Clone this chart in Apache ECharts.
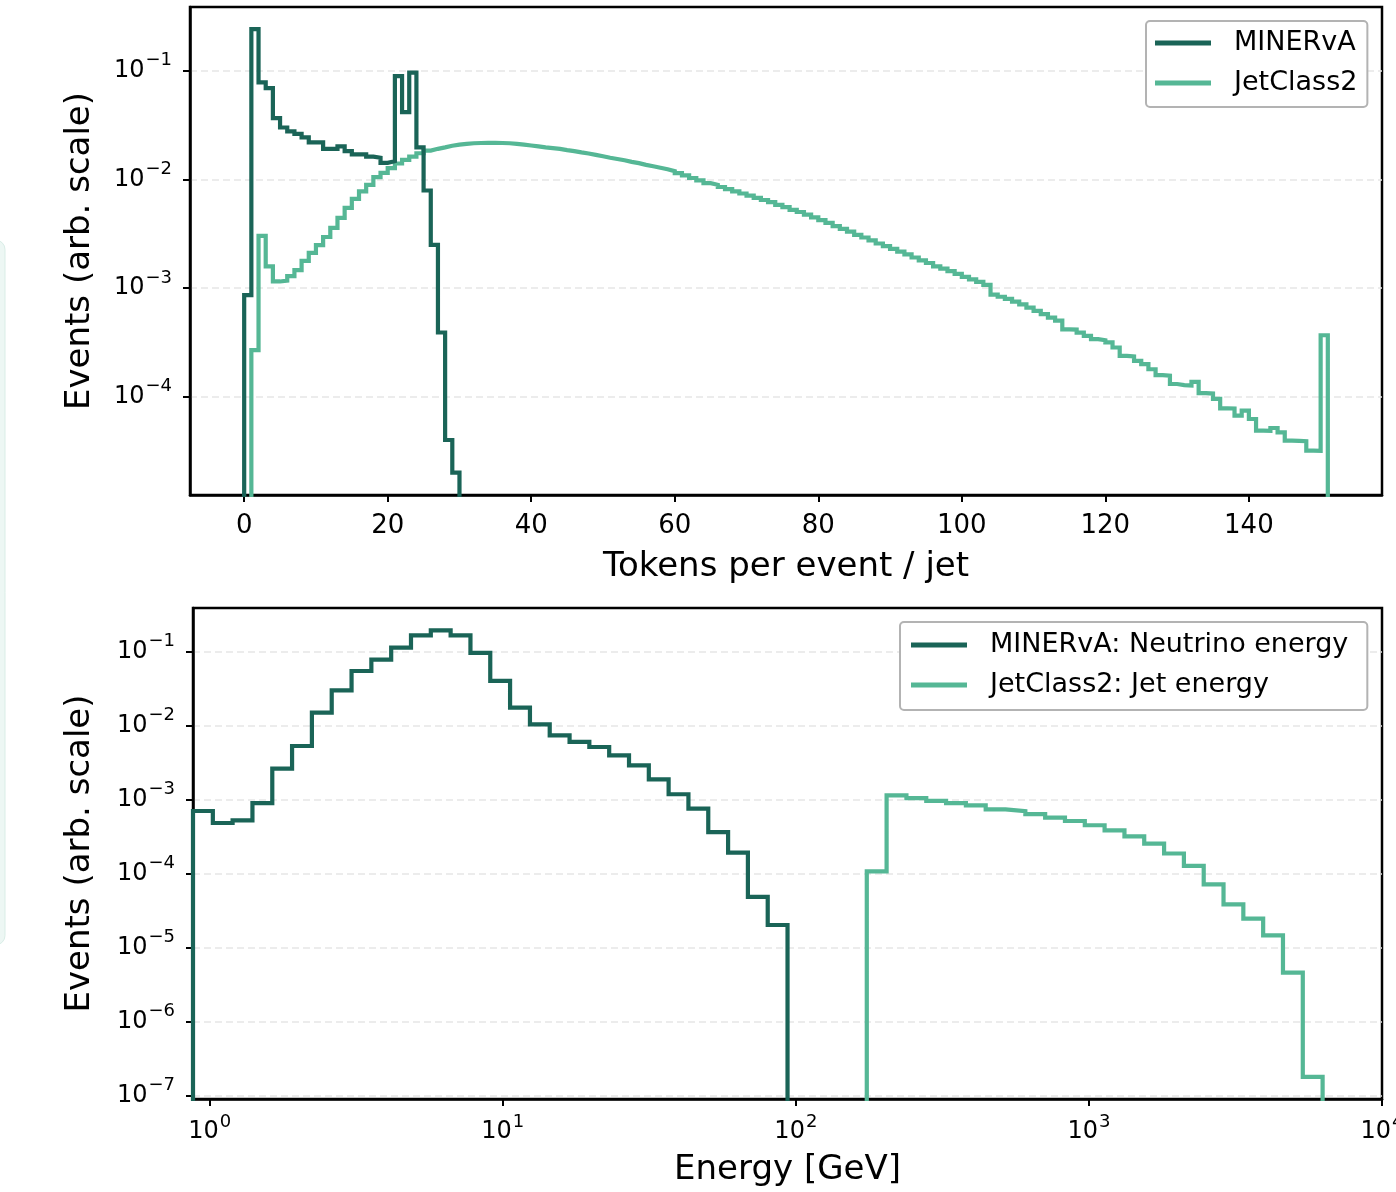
<!DOCTYPE html>
<html>
<head>
<meta charset="utf-8">
<script src="https://cdn.jsdelivr.net/npm/echarts@6/dist/echarts.min.js"></script>
<style>
  html, body { margin: 0; padding: 0; background: #fff; }
  #chart { width: 1396px; height: 1192px; }
</style>
</head>
<body>
<div id="chart"></div>
<script>
// tokens per event / jet -- unit-width bins, first bin left edge given by *Start
const minervaTokenStart = 0;
const minervaTokens = [
  8.6e-4, 0.241, 0.078, 0.069, 0.0366, 0.030, 0.0276, 0.0262, 0.0243, 0.0219,
  0.0219, 0.0191, 0.0191, 0.0201, 0.0182, 0.0170, 0.0170, 0.0162, 0.0158, 0.0142,
  0.0147, 0.089, 0.0415, 0.096, 0.0197, 0.0079, 0.0025, 3.9e-4, 4.0e-5, 2.0e-5
];
const jetTokenStart = 1;
const jetTokens = [
  2.69e-4, 3.02e-3, 1.58e-3, 1.15e-3, 1.17e-3, 1.29e-3, 1.46e-3, 1.78e-3, 2.11e-3, 2.48e-3,
  2.95e-3, 3.58e-3, 4.42e-3, 5.46e-3, 6.61e-3, 7.76e-3, 8.91e-3, 1.05e-2, 1.15e-2, 1.27e-2,
  1.40e-2, 1.51e-2, 1.62e-2, 1.74e-2, 1.84e-2, 1.91e-2, 1.97e-2, 2.04e-2, 2.09e-2, 2.12e-2,
  2.15e-2, 2.16e-2, 2.17e-2, 2.17e-2, 2.16e-2, 2.15e-2, 2.12e-2, 2.09e-2, 2.05e-2, 2.01e-2,
  1.97e-2, 1.94e-2, 1.91e-2, 1.86e-2, 1.82e-2, 1.77e-2, 1.73e-2, 1.68e-2, 1.63e-2, 1.58e-2,
  1.54e-2, 1.50e-2, 1.45e-2, 1.41e-2, 1.36e-2, 1.32e-2, 1.28e-2, 1.24e-2, 1.19e-2, 1.14e-2,
  1.09e-2, 1.03e-2, 9.77e-3, 9.23e-3, 8.91e-3, 8.51e-3, 8.13e-3, 7.76e-3, 7.41e-3, 7.08e-3,
  6.76e-3, 6.46e-3, 6.17e-3, 5.82e-3, 5.56e-3, 5.25e-3, 5.01e-3, 4.73e-3, 4.47e-3, 4.22e-3,
  3.98e-3, 3.72e-3, 3.51e-3, 3.31e-3, 3.09e-3, 2.92e-3, 2.75e-3, 2.57e-3, 2.43e-3, 2.29e-3,
  2.16e-3, 2.04e-3, 1.91e-3, 1.80e-3, 1.70e-3, 1.58e-3, 1.51e-3, 1.43e-3, 1.35e-3, 1.27e-3,
  1.20e-3, 1.14e-3, 1.07e-3, 8.71e-4, 8.32e-4, 7.94e-4, 7.50e-4, 7.08e-4, 6.61e-4, 6.17e-4,
  5.75e-4, 5.35e-4, 5.01e-4, 4.17e-4, 4.15e-4, 3.89e-4, 3.63e-4, 3.39e-4, 3.31e-4, 3.16e-4,
  2.84e-4, 2.38e-4, 2.35e-4, 2.14e-4, 2.00e-4, 1.79e-4, 1.58e-4, 1.56e-4, 1.31e-4, 1.28e-4,
  1.27e-4, 1.37e-4, 1.08e-4, 1.07e-4, 9.55e-5, 7.82e-5, 7.80e-5, 6.70e-5, 7.45e-5, 6.24e-5,
  4.88e-5, 4.85e-5, 5.16e-5, 4.71e-5, 3.94e-5, 3.92e-5, 3.90e-5, 3.20e-5, 3.18e-5, 3.68e-4
];

// energy histograms share one log binning (GeV edges)
const energyEdges = [
  0.877, 1.025, 1.197, 1.399, 1.635, 1.910, 2.232, 2.608, 3.048, 3.561,
  4.161, 4.862, 5.681, 6.638, 7.757, 9.063, 10.59, 12.38, 14.46, 16.90,
  19.74, 23.07, 26.96, 31.50, 36.80, 43.00, 50.25, 58.72, 68.61, 80.17,
  93.67, 109.4, 127.9, 149.4, 174.6, 204.0, 238.4, 278.6, 325.5, 380.4,
  444.4, 519.3, 606.8, 709.0, 828.4, 968.1, 1131, 1322, 1544, 1805,
  2109, 2464, 2879, 3364, 3931, 4593, 5367, 6271
];
const minervaEnergyStart = 0;
const minervaEnergy = [
  6.95e-4, 4.78e-4, 5.2e-4, 8.9e-4, 2.6e-3, 5.25e-3, 1.48e-2, 2.97e-2, 5.42e-2, 7.7e-2,
  0.112, 0.164, 0.192, 0.164, 0.095, 0.0398, 0.0173, 0.0103, 7.3e-3, 5.96e-3,
  5.09e-3, 3.93e-3, 2.88e-3, 1.86e-3, 1.17e-3, 7.5e-4, 3.6e-4, 1.9e-4, 4.8e-5, 2.0e-5
];
const jetEnergyStart = 34;
const jetEnergy = [
  1.06e-4, 1.13e-3, 1.04e-3, 9.5e-4, 8.9e-4, 8.3e-4, 7.3e-4, 6.9e-4, 6.3e-4, 5.65e-4,
  5.09e-4, 4.46e-4, 3.81e-4, 3.16e-4, 2.52e-4, 1.85e-4, 1.26e-4, 7.1e-5, 3.81e-5, 2.44e-5,
  1.45e-5, 4.55e-6, 1.77e-7
];

// tick positions (exponents for the log axes)
const tokenTicks = [0, 20, 40, 60, 80, 100, 120, 140];
const topDecades = [-4, -3, -2, -1];
const bottomDecades = [-7, -6, -5, -4, -3, -2, -1];
const energyDecades = [0, 1, 2, 3, 4];

const DARK = '#1a6457';
const LIGHT = '#55b795';
const FONT = 'DejaVu Sans';
const FLOOR = -12; // below every axis, line gets clipped

// histtype='step' outline in log10(y)
function stepLine(edges, values) {
  const n = values.length;
  const pts = [[edges[0], FLOOR]];
  values.forEach((v, i) => pts.push([edges[i], Math.log10(v)]));
  pts.push([edges[n], Math.log10(values[n - 1])]);
  pts.push([edges[n], FLOOR]);
  return pts;
}
function unitEdges(start, n) {
  const e = [];
  for (let i = 0; i <= n; i++) e.push(start + i);
  return e;
}
function logEdges(start, n) {
  return energyEdges.slice(start, start + n + 1).map(v => Math.log10(v));
}

const powLabel = v => '{b|10}{s|' + String(v).replace('-', '\u2212') + '}';
const powRich = {
  b: { fontFamily: FONT, fontSize: 24, lineHeight: 38, color: '#000', verticalAlign: 'middle' },
  s: { fontFamily: FONT, fontSize: 18, color: '#000', verticalAlign: 'top', padding: [0, 0, 0, 1] }
};

const axisLine = { show: true, onZero: false, lineStyle: { color: '#000', width: 2.5 } };
const gridLine = { show: true, lineStyle: { color: '#e6e6e6', width: 1.5, type: [7, 4] } };
const nameStyle = { fontFamily: FONT, fontSize: 34, color: '#000' };

function tickCfg(values) {
  return { show: true, customValues: values, length: 7, inside: false, lineStyle: { color: '#000', width: 2 } };
}

function lineSeries(name, color, x, y, data) {
  return {
    name: name, type: 'line', xAxisIndex: x, yAxisIndex: y,
    step: 'end', symbol: 'none', clip: true,
    data: data,
    lineStyle: { color: color, width: 4.2, join: 'miter' },
    itemStyle: { color: color },
    z: color === DARK ? 3 : 2
  };
}

function legendCfg(names, left, top, padding) {
  return {
    data: names, orient: 'vertical', left: left, top: top,
    icon: 'rect', itemWidth: 56, itemHeight: 5, itemGap: 10,
    selectedMode: false,
    backgroundColor: '#fff', borderColor: '#b3b3b3', borderWidth: 2, borderRadius: 4,
    padding: padding,
    textStyle: { fontFamily: FONT, fontSize: 27, lineHeight: 30, color: '#000', padding: [0, 0, 0, 18] }
  };
}

const chart = echarts.init(document.getElementById('chart'), null, { renderer: 'canvas' });

chart.setOption({
  animation: false,
  backgroundColor: '#fff',
  graphic: [{
    type: 'rect', z: -10,
    shape: { x: -14, y: 240, width: 19, height: 705, r: 10 },
    style: { fill: '#edf7f4', stroke: '#d9ede7', lineWidth: 1 }
  }],
  grid: [
    {
      left: 190, top: 7, width: 1192, height: 488, outerBoundsMode: 'none',
      show: true, borderColor: '#000', borderWidth: 2.5, backgroundColor: 'transparent'
    },
    {
      left: 193, top: 608, width: 1189, height: 491, outerBoundsMode: 'none',
      show: true, borderColor: '#000', borderWidth: 2.5, backgroundColor: 'transparent'
    }
  ],
  legend: [
    legendCfg(['MINERvA', 'JetClass2'], 1146, 21, [7, 10, 9, 9]),
    legendCfg(['MINERvA: Neutrino energy', 'JetClass2: Jet energy'], 900, 622, [8, 19, 10, 11])
  ],
  xAxis: [
    {
      gridIndex: 0, type: 'value', min: -7.55, max: 158.55,
      axisLine: axisLine,
      axisTick: tickCfg(tokenTicks),
      axisLabel: { customValues: tokenTicks, margin: 18, fontFamily: FONT, fontSize: 26, color: '#000' },
      splitLine: { show: false },
      name: 'Tokens per event / jet', nameLocation: 'middle', nameGap: 55, nameTextStyle: nameStyle
    },
    {
      gridIndex: 1, type: 'value', min: Math.log10(energyEdges[0]), max: 4,
      axisLine: axisLine,
      axisTick: tickCfg(energyDecades),
      axisLabel: {
        customValues: energyDecades, margin: 14, formatter: powLabel, rich: powRich,
        alignMinLabel: 'center', alignMaxLabel: 'center'
      },
      splitLine: { show: false },
      name: 'Energy [GeV]', nameLocation: 'middle', nameGap: 54, nameTextStyle: nameStyle
    }
  ],
  yAxis: [
    {
      gridIndex: 0, type: 'value', min: -4.904, max: -0.414,
      axisLine: axisLine,
      axisTick: tickCfg(topDecades),
      axisLabel: { customValues: topDecades, margin: 18, formatter: powLabel, rich: powRich },
      splitLine: gridLine,
      name: 'Events (arb. scale)', nameLocation: 'middle', nameGap: 93, nameTextStyle: nameStyle
    },
    {
      gridIndex: 1, type: 'value', min: -7.05, max: -0.415,
      axisLine: axisLine,
      axisTick: tickCfg(bottomDecades),
      axisLabel: { customValues: bottomDecades, margin: 18, formatter: powLabel, rich: powRich },
      splitLine: gridLine,
      name: 'Events (arb. scale)', nameLocation: 'middle', nameGap: 96, nameTextStyle: nameStyle
    }
  ],
  series: [
    lineSeries('JetClass2', LIGHT, 0, 0,
      stepLine(unitEdges(jetTokenStart, jetTokens.length), jetTokens)),
    lineSeries('MINERvA', DARK, 0, 0,
      stepLine(unitEdges(minervaTokenStart, minervaTokens.length), minervaTokens)),
    lineSeries('JetClass2: Jet energy', LIGHT, 1, 1,
      stepLine(logEdges(jetEnergyStart, jetEnergy.length), jetEnergy)),
    lineSeries('MINERvA: Neutrino energy', DARK, 1, 1,
      stepLine(logEdges(minervaEnergyStart, minervaEnergy.length), minervaEnergy))
  ]
});

window.onresize = chart.resize;
</script>
</body>
</html>
